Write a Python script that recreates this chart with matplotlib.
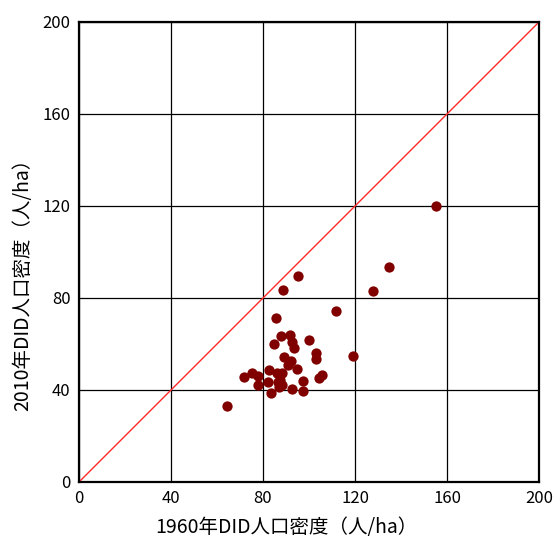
import matplotlib
matplotlib.use('Agg')
import matplotlib.pyplot as plt

plt.rcParams['font.family'] = ['Noto Sans CJK JP', 'DejaVu Sans']

# DID人口密度 (人/ha)
dens_1960 = [85.7, 111.6, 119.1, 87.8, 91.7, 84.9, 92.5, 93.5, 100.1, 102.9,
             102.9, 89.3, 92.2, 90.7, 94.9, 82.6, 71.9, 75.4, 78.0, 86.0,
             88.1, 105.5, 104.3, 78.0, 82.3, 86.4, 88.1, 97.5, 83.5, 92.5,
             97.2, 64.5, 87.1, 87.4, 155.1, 134.6, 127.7, 95.1, 88.7]
dens_2010 = [71.4, 74.3, 54.8, 63.5, 63.9, 59.9, 61.0, 58.1, 61.7, 56.0,
             53.5, 54.5, 52.8, 50.9, 49.0, 48.7, 45.8, 47.3, 46.1, 47.3,
             47.3, 46.5, 45.1, 42.2, 43.6, 43.6, 42.2, 43.8, 38.6, 40.3,
             39.7, 33.2, 41.4, 44.3, 120.1, 93.6, 83.0, 89.7, 83.5]
ticks = [0, 40, 80, 120, 160, 200]

fig = plt.figure(figsize=(5.54, 5.40), dpi=100)
ax = fig.add_axes([79 / 554, 1 - 482 / 540, 460 / 554, 460 / 540])

ax.plot([0, 200], [0, 200], color='#ff2a2a', linewidth=1.0, zorder=2)
ax.scatter(dens_1960, dens_2010, s=55, color='#800000', zorder=3, linewidths=0)

ax.set_xlim(0, 200)
ax.set_ylim(0, 200)
ax.set_xticks(ticks)
ax.set_yticks(ticks)
ax.grid(True, color='black', linewidth=0.9)
ax.set_axisbelow(True)
for sp in ax.spines.values():
    sp.set_linewidth(1.6)
    sp.set_color('black')
ax.tick_params(length=0, labelsize=12, pad=6)

ax.set_xlabel('1960年DID人口密度（人/ha）', fontsize=14)
ax.set_ylabel('2010年DID人口密度（人/ha）', fontsize=14)
ax.xaxis.set_label_coords(0.45, -0.075)
ax.yaxis.set_label_coords(-0.10, 0.44)

fig.savefig('out.png', dpi=100)
